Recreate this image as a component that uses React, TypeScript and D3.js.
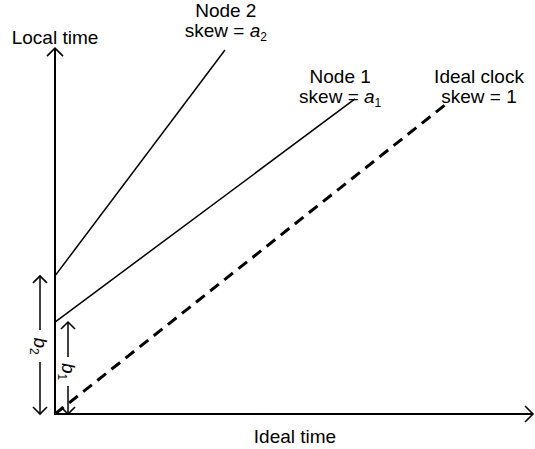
import React from "react";
import * as d3 from "d3";

const W = 535;
const H = 449;

// Lines: intercept on the local-time axis, end point (ideal time, local time)
const lineNames = ["Node 2", "Node 1", "Ideal clock"];
const lineIntercepts = [4.37, 2.91, 0];
const lineEndX = [4.25, 7.5, 9.75];
const lineEndY = [11.52, 9.97, 9.78];
const lineDashed = [false, false, true];

// Labels above the lines
const labelTop = ["Node 2", "Node 1", "Ideal clock"];
const labelSkewSymbol = ["a", "a", ""];
const labelSkewSub = ["2", "1", ""];
const labelSkewPlain = ["", "", "1"];
const labelCenterX = [4.27, 7.13, 10.6];
const labelBaseY = [12.56, 10.48, 10.48];

// Offsets (b1, b2)
const offsetNames = ["1", "2"];
const offsetValues = [2.91, 4.37];

const axisXMax = 11.95;
const axisYMax = 11.58;

const x = d3.scaleLinear().domain([0, 12]).range([55, 535]);
const y = d3.scaleLinear().domain([0, 10]).range([414, 98]);

const FONT = "'Liberation Sans', Arial, Helvetica, sans-serif";

function Chevron({ tx, ty, angle, size = 8 }: { tx: number; ty: number; angle: number; size?: number }) {
  const p = d3.path();
  p.moveTo(-size, -size);
  p.lineTo(0, 0);
  p.lineTo(-size, size);
  return (
    <path
      d={p.toString()}
      transform={`translate(${tx},${ty}) rotate(${angle})`}
      fill="none"
      stroke="#000"
      strokeWidth={1.6}
      strokeLinejoin="miter"
    />
  );
}

export default function App() {
  const x0 = x(0);
  const y0 = y(0);
  const lineGen = d3
    .line<[number, number]>()
    .x((d) => x(d[0]))
    .y((d) => y(d[1]));

  const offsetX = [68, 40];
  const labelGap = [
    [357, 386],
    [330, 362],
  ];

  return (
    <svg width={W} height={H} style={{ position: "absolute", left: 0, top: 0 }} fontFamily={FONT}>
      <rect width={W} height={H} fill="#fff" />
      {/* axes */}
      <line x1={x0} y1={y0} x2={x(axisXMax)} y2={y0} stroke="#000" strokeWidth={2} />
      <line x1={x0} y1={y0 + 1} x2={x0} y2={y(axisYMax)} stroke="#000" strokeWidth={2} />
      <Chevron tx={x(axisXMax)} ty={y0} angle={0} />
      <Chevron tx={x0} ty={y(axisYMax)} angle={-90} />
      <text x={x0} y={44} fontSize={19} textAnchor="middle">Local time</text>
      <text x={295} y={443} fontSize={19} textAnchor="middle">Ideal time</text>

      {/* clock lines */}
      {lineNames.map((n, i) => (
        <path
          key={n}
          d={lineGen([
            [0, lineIntercepts[i]],
            [lineEndX[i], lineEndY[i]],
          ]) || ""}
          fill="none"
          stroke="#000"
          strokeWidth={lineDashed[i] ? 3 : 1.5}
          strokeDasharray={lineDashed[i] ? "11 7" : undefined}
        />
      ))}

      {/* labels */}
      {labelTop.map((t, i) => (
        <g key={t}>
          <text x={x(labelCenterX[i])} y={y(labelBaseY[i])} fontSize={19} textAnchor="middle">{t}</text>
          <text x={x(labelCenterX[i])} y={y(labelBaseY[i]) + 20} fontSize={19} textAnchor="middle">
            skew = {labelSkewPlain[i]}
            {labelSkewSymbol[i] && <tspan fontStyle="italic">{labelSkewSymbol[i]}</tspan>}
            {labelSkewSub[i] && (
              <tspan fontSize={12} dy={4}>{labelSkewSub[i]}</tspan>
            )}
          </text>
        </g>
      ))}

      {/* offset double arrows */}
      {offsetNames.map((n, i) => {
        const xx = offsetX[i];
        const top = y(offsetValues[i]);
        const [g0, g1] = labelGap[i];
        const midY = (g0 + g1) / 2;
        return (
          <g key={n}>
            <line x1={xx} y1={top} x2={xx} y2={g0} stroke="#000" strokeWidth={1.5} />
            <line x1={xx} y1={g1} x2={xx} y2={y0} stroke="#000" strokeWidth={1.5} />
            <Chevron tx={xx} ty={top} angle={-90} size={7} />
            <Chevron tx={xx} ty={y0} angle={90} size={7} />
            <text
              transform={`translate(${xx - 6},${midY}) rotate(90)`}
              fontSize={19}
              textAnchor="middle"
            >
              <tspan fontStyle="italic">b</tspan>
              <tspan fontSize={12} dy={4}>{n}</tspan>
            </text>
          </g>
        );
      })}
    </svg>
  );
}
